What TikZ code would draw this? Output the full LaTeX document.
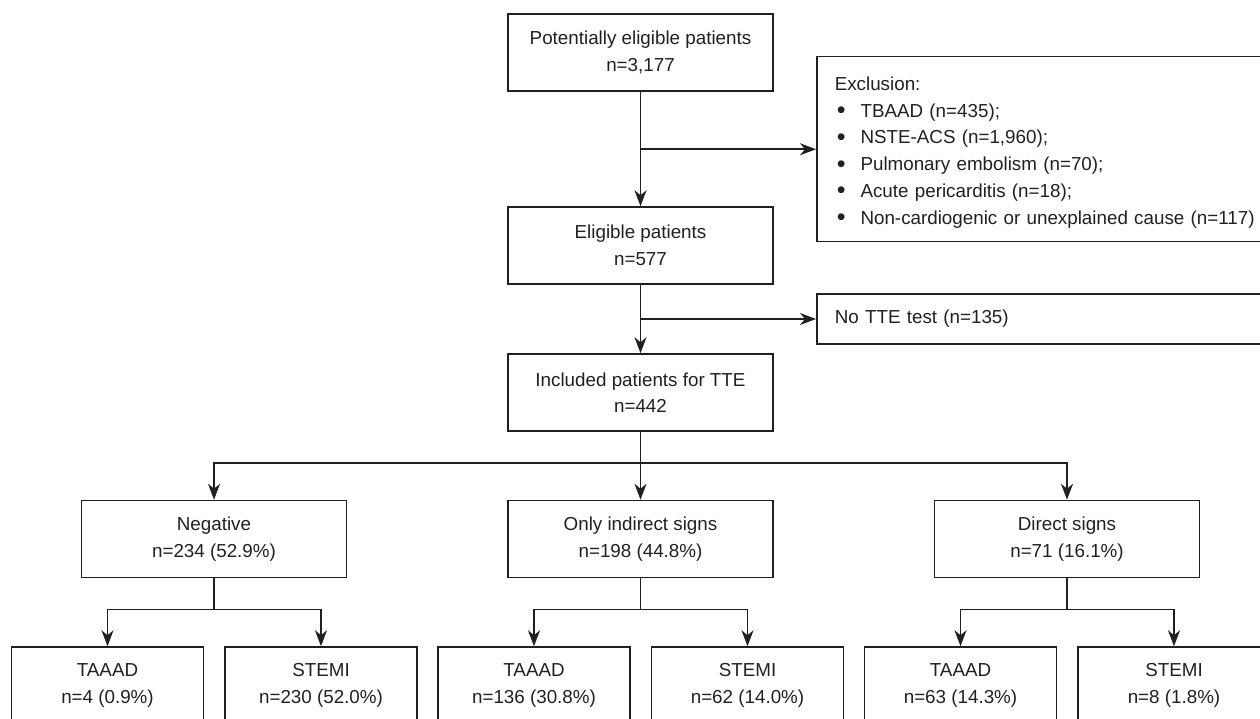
\documentclass[tikz,border=0pt]{standalone}
\usepackage{fontspec}
\setmainfont{Liberation Sans}
\usetikzlibrary{arrows.meta}
\definecolor{ink}{HTML}{231F20}
\newcommand\blt{\hspace*{2pt}\raisebox{-1.5pt}{\fontsize{25}{25}\selectfont\textbullet}\hspace{15pt}}
\begin{document}
\begin{tikzpicture}[x=1pt,y=-1pt,
    line width=1.5pt, draw=ink, text=ink,
    box/.style={draw,minimum width=265pt,minimum height=77pt,align=center,
      font=\fontsize{18.8}{26.5}\selectfont},
    leaf/.style={box,minimum width=192pt},
    side/.style={draw,align=left,text width=424pt,inner xsep=18pt,
      font=\fontsize{18.8}{26.7}\selectfont},
    arr/.style={-{Stealth[length=16pt,width=12pt,inset=5pt]}}]
   \useasboundingbox (0,0) rectangle (1260,719);
   \clip (0,0) rectangle (1260,719);
   % main column
   \node[box] (pot) at (640.5,52.5) {Potentially eligible patients\\n=3,177};
   \node[box] (elig) at (640.5,245.5) {Eligible patients\\n=577};
   \node[box] (incl) at (640.5,392.5) {Included patients for TTE\\n=442};
   \node[side,anchor=north west,minimum height=185pt] (excl) at (816,56)
     {\rule{0pt}{20pt}Exclusion:\\
      \blt TBAAD (n=435);\\
      \blt NSTE-ACS (n=1,960);\\
      \blt Pulmonary embolism (n=70);\\
      \blt Acute pericarditis (n=18);\\
      \blt Non-cardiogenic or unexplained cause (n=117)};
   \node[side,anchor=west,minimum height=50pt] (notte) at (816,319) {No TTE test (n=135)};
   \draw[arr] (pot) -- (elig);
   \draw[arr] (pot.south |- excl.west) -- (excl.west);
   \draw[arr] (elig) -- (incl);
   \draw[arr] (elig.south |- notte.west) -- (notte.west);
   % TTE findings
   \node[box] (neg) at (214,539) {Negative\\n=234 (52.9\%)};
   \node[box] (ind) at (640.5,539) {Only indirect signs\\n=198 (44.8\%)};
   \node[box] (dir) at (1067,539) {Direct signs\\n=71 (16.1\%)};
   \draw (incl.south) -- ++(0,31) coordinate (split);
   \draw[arr] (split) -- (ind.north);
   \draw[arr] (split) -| (neg.north);
   \draw[arr] (split) -| (dir.north);
   % diagnoses
   \foreach \nm/\x/\lab/\val in
     {taaadA/107.5/TAAAD/{n=4 (0.9\%)},
      stemiA/321/STEMI/{n=230 (52.0\%)},
      taaadB/534/TAAAD/{n=136 (30.8\%)},
      stemiB/747.5/STEMI/{n=62 (14.0\%)},
      taaadC/960.5/TAAAD/{n=63 (14.3\%)},
      stemiC/1174/STEMI/{n=8 (1.8\%)}}
     \node[leaf] (\nm) at (\x,685.5) {\lab\\\val};
   \foreach \p/\a/\b in {neg/taaadA/stemiA, ind/taaadB/stemiB, dir/taaadC/stemiC} {
     \draw (\p.south) -- ++(0,31) coordinate (\p split);
     \draw[arr] (\p split) -| (\a.north);
     \draw[arr] (\p split) -| (\b.north);
   }
\end{tikzpicture}
\end{document}
